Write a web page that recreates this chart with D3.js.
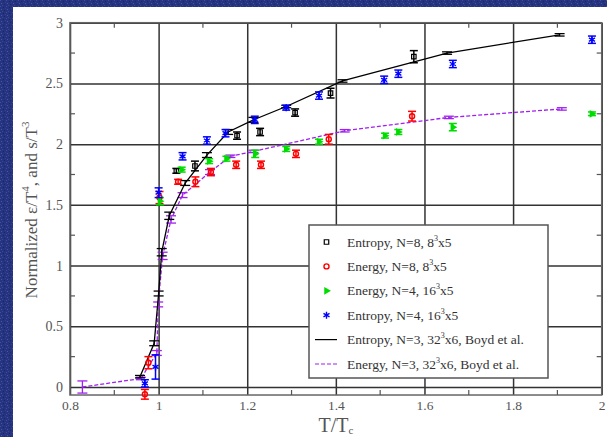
<!DOCTYPE html>
<html><head><meta charset="utf-8">
<script src="https://cdn.jsdelivr.net/npm/d3@7"></script>
<style>html,body{margin:0;padding:0;background:#243079;}svg{display:block}</style>
</head><body>
<script>
// ---- data ----
const xTicks = [0.8, 1, 1.2, 1.4, 1.6, 1.8, 2];
const yTicks = [0, 0.5, 1, 1.5, 2, 2.5, 3];
const xMinor = [0.9, 1.1, 1.3, 1.5, 1.7, 1.9];
const yMinor = [0.25, 0.75, 1.25, 1.75, 2.25, 2.75];

const entN8X = [1.04, 1.082, 1.177, 1.229, 1.308, 1.388, 1.576];
const entN8Y = [1.78, 1.82, 2.07, 2.10, 2.26, 2.42, 2.72];
const entN8E = [0.02, 0.04, 0.03, 0.03, 0.03, 0.04, 0.05];

const enN8X = [0.969, 0.977, 1.002, 1.044, 1.083, 1.118, 1.175, 1.231, 1.31, 1.384, 1.572];
const enN8Y = [-0.06, 0.20, 1.56, 1.69, 1.69, 1.77, 1.83, 1.83, 1.92, 2.04, 2.23];
const enN8E = [0.04, 0.05, 0.05, 0.02, 0.04, 0.03, 0.03, 0.03, 0.03, 0.04, 0.04];

const enN4X = [1.003, 1.052, 1.114, 1.153, 1.218, 1.288, 1.362, 1.511, 1.541, 1.664, 1.978];
const enN4Y = [1.53, 1.79, 1.86, 1.88, 1.92, 1.96, 2.02, 2.07, 2.10, 2.14, 2.25];
const enN4E = [0.03, 0.02, 0.02, 0.02, 0.03, 0.02, 0.02, 0.02, 0.02, 0.03, 0.015];

const entN4X = [0.969, 0.993, 1.0, 1.054, 1.109, 1.151, 1.217, 1.288, 1.362, 1.509, 1.541, 1.664, 1.978];
const entN4Y = [0.03, 0.165, 1.60, 1.90, 2.03, 2.09, 2.20, 2.30, 2.40, 2.53, 2.58, 2.66, 2.86];
const entN4E = [0.03, 0.10, 0.04, 0.03, 0.03, 0.03, 0.03, 0.02, 0.03, 0.03, 0.03, 0.03, 0.03];

const boydEntX = [0.958, 0.99, 1.0, 1.007, 1.024, 1.06, 1.109, 1.157, 1.214, 1.288, 1.415, 1.651, 1.905];
const boydEntY = [0.085, 0.36, 0.77, 1.11, 1.41, 1.68, 1.91, 2.10, 2.20, 2.31, 2.52, 2.75, 2.90];
const boydEntE = [0.01, 0.02, 0.02, 0.03, 0.03, 0.02, 0.02, 0.02, 0.02, 0.01, 0.01, 0.01, 0.01];

const boydEnX = [0.828, 0.96, 0.996, 0.999, 1.009, 1.028, 1.054, 1.116, 1.162, 1.214, 1.42, 1.655, 1.91];
const boydEnY = [0.0, 0.07, 0.28, 0.68, 1.08, 1.38, 1.58, 1.77, 1.90, 1.94, 2.11, 2.22, 2.29];
const boydEnE = [0.05, 0.01, 0.02, 0.02, 0.03, 0.03, 0.02, 0.02, 0.01, 0.01, 0.01, 0.01, 0.01];

const legendLabels = [
  ["Entropy, N=8, 8", "3", "x5"],
  ["Energy, N=8, 8", "3", "x5"],
  ["Energy, N=4, 16", "3", "x5"],
  ["Entropy, N=4, 16", "3", "x5"],
  ["Entropy, N=3, 32", "3", "x6, Boyd et al."],
  ["Energy, N=3, 32", "3", "x6, Boyd et al."]
];

// ---- layout ----
const W = 607, H = 437;
const svg = d3.select("body").append("svg").attr("width", W).attr("height", H);

// textured slide background
const defs = svg.append("defs");
const pat = defs.append("pattern").attr("id", "tex").attr("width", 6).attr("height", 6).attr("patternUnits", "userSpaceOnUse");
pat.append("rect").attr("width", 6).attr("height", 6).attr("fill", "#26337e");
[[0,0,"#3e4ea6"],[3,1,"#1b2560"],[1,3,"#4657ad"],[4,4,"#1d2866"],[2,5,"#36459e"],[5,2,"#314094"]].forEach(([a,b,c]) =>
  pat.append("rect").attr("x", a).attr("y", b).attr("width", 1).attr("height", 1).attr("fill", c));
svg.append("rect").attr("width", W).attr("height", H).attr("fill", "url(#tex)");
svg.append("rect").attr("x", 13).attr("y", 7).attr("width", W - 13).attr("height", H - 7).attr("fill", "#fff");

const x = d3.scaleLinear().domain([0.8, 2]).range([70, 601.7]);
const y = d3.scaleLinear().domain([0, 3]).range([387, 22.7]);
const yBot = y(-0.066), yTop = y(3);
const xL = x(0.8), xR = x(2);

const gridColor = "#333";
const labelColor = "#555";
const font = "'Liberation Serif','Times New Roman',serif";

// gridlines + tick labels via d3 axes
const gx = svg.append("g").attr("transform", `translate(0,${yBot})`)
  .call(d3.axisBottom(x).tickValues(xTicks).tickFormat(d3.format("~g")).tickSize(-(yBot - yTop)).tickPadding(5));
gx.select(".domain").remove();
gx.selectAll("line").attr("stroke", gridColor).attr("stroke-width", 1.5);
gx.selectAll("text").attr("fill", labelColor).attr("font-family", font).attr("font-size", 13.5);

const gy = svg.append("g").attr("transform", `translate(${xL},0)`)
  .call(d3.axisLeft(y).tickValues(yTicks).tickFormat(d3.format("~g")).tickSize(-(xR - xL)).tickPadding(7));
gy.select(".domain").remove();
gy.selectAll("line").attr("stroke", gridColor).attr("stroke-width", 1.5);
gy.selectAll("text").attr("fill", labelColor).attr("font-family", font).attr("font-size", 14);

// frame
svg.append("rect").attr("x", xL).attr("y", yTop).attr("width", xR - xL).attr("height", yBot - yTop)
  .attr("fill", "none").attr("stroke", "#666").attr("stroke-width", 1.5);

// minor ticks
const mt = svg.append("g").attr("stroke", "#555").attr("stroke-width", 1.2);
xMinor.forEach(v => {
  mt.append("line").attr("x1", x(v)).attr("x2", x(v)).attr("y1", yBot).attr("y2", yBot - 5);
  mt.append("line").attr("x1", x(v)).attr("x2", x(v)).attr("y1", yTop).attr("y2", yTop + 5);
});
yMinor.forEach(v => {
  mt.append("line").attr("x1", xL).attr("x2", xL + 5).attr("y1", y(v)).attr("y2", y(v));
  mt.append("line").attr("x1", xR).attr("x2", xR - 5).attr("y1", y(v)).attr("y2", y(v));
});

// helpers
function zip(xs, ys, es) { return xs.map((v, i) => ({x: v, y: ys[i], e: es[i]})); }
function errorBars(g, data, color, cap, sw) {
  data.forEach(d => {
    const px = x(d.x), y1 = y(d.y - d.e), y2 = y(d.y + d.e);
    g.append("line").attr("x1", px).attr("x2", px).attr("y1", y1).attr("y2", y2).attr("stroke", color).attr("stroke-width", sw);
    g.append("line").attr("x1", px - cap).attr("x2", px + cap).attr("y1", y1).attr("y2", y1).attr("stroke", color).attr("stroke-width", sw);
    g.append("line").attr("x1", px - cap).attr("x2", px + cap).attr("y1", y2).attr("y2", y2).attr("stroke", color).attr("stroke-width", sw);
  });
}
const symSq = d3.symbol().type(d3.symbolSquare).size(20);
const symCirc = d3.symbol().type(d3.symbolCircle).size(20);
const symTri = d3.symbol().type(d3.symbolTriangle).size(26);
const symStar = d3.symbol().type(d3.symbolAsterisk).size(34);
function markers(g, data, kind, color) {
  data.forEach(d => {
    const p = g.append("path").attr("transform", `translate(${x(d.x)},${y(d.y)})${kind === "tri" ? " rotate(90)" : ""}`);
    drawSym(p, kind, color);
  });
}
function drawSym(p, kind, color) {
  if (kind === "sq") p.attr("d", symSq()).attr("fill", "none").attr("stroke", color).attr("stroke-width", 1.2);
  else if (kind === "circ") p.attr("d", symCirc()).attr("fill", "none").attr("stroke", color).attr("stroke-width", 1.4);
  else if (kind === "tri") p.attr("d", symTri()).attr("fill", color);
  else p.attr("d", symStar()).attr("fill", color).attr("stroke", color).attr("stroke-width", 1.4);
}

const line = d3.line().x(d => x(d.x)).y(d => y(d.y));
const plot = svg.append("g");

// Boyd curves
const boydEn = zip(boydEnX, boydEnY, boydEnE);
const boydEnt = zip(boydEntX, boydEntY, boydEntE);
plot.append("path").datum(boydEn).attr("d", line).attr("fill", "none").attr("stroke", "#a020f0").attr("stroke-width", 1.3).attr("stroke-dasharray", "4,2");
errorBars(plot.append("g"), boydEn, "#a020f0", 5, 1.3);
plot.append("path").datum(boydEnt).attr("d", line).attr("fill", "none").attr("stroke", "#000").attr("stroke-width", 1.3);
errorBars(plot.append("g"), boydEnt, "#000", 5, 1.3);

// lattice points
const sets = [
  [zip(entN8X, entN8Y, entN8E), "sq", "#000"],
  [zip(enN8X, enN8Y, enN8E), "circ", "#ff0000"],
  [zip(enN4X, enN4Y, enN4E), "tri", "#00dd00"],
  [zip(entN4X, entN4Y, entN4E), "star", "#0000ff"]
];
sets.forEach(([data, kind, color]) => {
  const g = plot.append("g");
  errorBars(g, data, color, 4, 1.5);
  markers(g, data, kind, color);
});

// legend
const lg = svg.append("g");
lg.append("rect").attr("x", 309).attr("y", 225).attr("width", 239).attr("height", 153)
  .attr("fill", "#fff").attr("stroke", "#555").attr("stroke-width", 1.5);
const kinds = ["sq", "circ", "tri", "star"];
const colors = ["#000", "#ff0000", "#00dd00", "#0000ff"];
legendLabels.forEach((lab, i) => {
  const cy = 242 + i * 24.4;
  if (i < 4) {
    const p = lg.append("path").attr("transform", `translate(326.5,${cy})${kinds[i] === "tri" ? " rotate(90)" : ""}`);
    drawSym(p, kinds[i], colors[i]);
  } else {
    lg.append("line").attr("x1", 315).attr("x2", 337).attr("y1", cy).attr("y2", cy)
      .attr("stroke", i === 4 ? "#000" : "#a020f0").attr("stroke-width", 1.2)
      .attr("stroke-dasharray", i === 4 ? null : "4,2");
  }
  const t = lg.append("text").attr("x", 347).attr("y", cy + 4.5).attr("font-family", font)
    .attr("font-size", 13.5).attr("fill", "#333");
  t.append("tspan").text(lab[0]);
  t.append("tspan").attr("font-size", 8).attr("dy", -6).text(lab[1]);
  t.append("tspan").attr("dy", 6).text(lab[2]);
});

// axis titles
const xt = svg.append("text").attr("x", 336).attr("y", 432).attr("text-anchor", "middle")
  .attr("font-family", font).attr("font-size", 20).attr("fill", labelColor);
xt.append("tspan").text("T/T");
xt.append("tspan").attr("font-size", 11).attr("dy", 1.5).text("c");

const yt = svg.append("text").attr("transform", "translate(37,210) rotate(-90)").attr("text-anchor", "middle")
  .attr("font-family", font).attr("font-size", 17).attr("fill", labelColor);
yt.append("tspan").text("Normalized \u03b5/T");
yt.append("tspan").attr("font-size", 11).attr("dy", -8).text("4");
yt.append("tspan").attr("dy", 8).text(", and s/T");
yt.append("tspan").attr("font-size", 11).attr("dy", -8).text("3");
</script>
</body></html>
